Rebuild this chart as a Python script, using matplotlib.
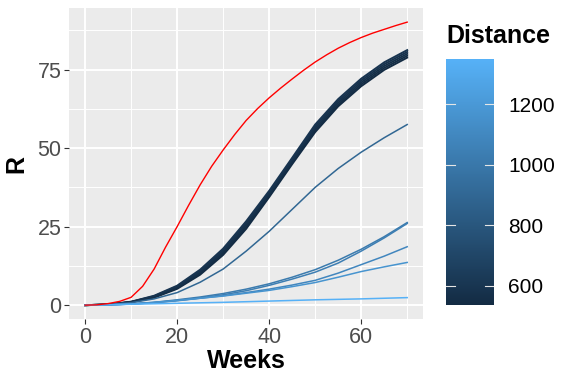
import numpy as np
import matplotlib.pyplot as plt
from matplotlib.colors import LinearSegmentedColormap, Normalize
from matplotlib.cm import ScalarMappable

plt.rcParams['font.family'] = ['Liberation Sans', 'DejaVu Sans']

# weeks sampled every 5, red curve every 2.5
weeks = [0, 5, 10, 15, 20, 25, 30, 35, 40, 45, 50, 55, 60, 65, 70]
weeks_fine = [0, 2.5, 5, 7.5, 10, 12.5, 15, 17.5, 20, 22.5, 25, 27.5, 30, 32.5, 35,
              37.5, 40, 42.5, 45, 47.5, 50, 52.5, 55, 57.5, 60, 62.5, 65, 67.5, 70]

red_R = [0, 0.1, 0.5, 1.2, 2.5, 6.0, 11.5, 18.5, 25.0, 31.8, 38.3, 44.2, 49.4, 54.3, 58.8,
         62.6, 66.0, 69.1, 72.0, 74.8, 77.4, 79.7, 81.8, 83.6, 85.2, 86.6, 87.8, 89.0, 90.1]

# dark band of near-identical runs
band_distance = [537, 552, 567, 582, 597]
band_R = [
    [0, 0.2, 0.9, 2.4, 5.2, 9.7, 16.0, 24.3, 34.4, 44.9, 55.1, 63.3, 69.7, 74.9, 78.8],
    [0, 0.2, 0.95, 2.55, 5.45, 10.1, 16.5, 24.9, 34.9, 45.4, 55.7, 63.8, 70.3, 75.5, 79.4],
    [0, 0.2, 1.0, 2.7, 5.7, 10.5, 17.0, 25.5, 35.4, 45.9, 56.3, 64.4, 70.9, 76.1, 80.0],
    [0, 0.2, 1.05, 2.85, 5.95, 10.9, 17.5, 26.1, 35.9, 46.4, 56.9, 65.0, 71.5, 76.7, 80.6],
    [0, 0.2, 1.1, 3.0, 6.2, 11.3, 18.0, 26.7, 36.4, 46.9, 57.5, 65.6, 72.1, 77.3, 81.2],
]

other_distance = [900, 1020, 1040, 1090, 1170, 1349]
other_R = [
    [0, 0.2, 0.8, 2.0, 4.0, 7.3, 11.5, 17.2, 23.5, 30.5, 37.5, 43.5, 48.7, 53.3, 57.5],
    [0, 0.1, 0.4, 0.9, 1.7, 2.6, 3.7, 5.1, 6.8, 8.9, 11.3, 14.3, 17.8, 21.8, 26.3],
    [0, 0.1, 0.35, 0.8, 1.5, 2.3, 3.3, 4.6, 6.3, 8.3, 10.5, 13.4, 17.2, 21.4, 26.0],
    [0, 0.1, 0.35, 0.8, 1.4, 2.2, 3.0, 4.0, 5.1, 6.4, 7.9, 10.2, 12.9, 15.6, 18.6],
    [0, 0.1, 0.4, 0.9, 1.5, 2.2, 2.9, 3.8, 4.7, 5.9, 7.2, 8.9, 10.7, 12.2, 13.6],
    [0, 0.1, 0.3, 0.45, 0.6, 0.75, 0.9, 1.1, 1.3, 1.5, 1.7, 1.85, 2.0, 2.2, 2.4],
]

cbar_ticks = [600, 800, 1000, 1200]

cmap = LinearSegmentedColormap.from_list('gg', ['#132B43', '#56B1F7'])
norm = Normalize(vmin=537, vmax=1349)

fig = plt.figure(figsize=(5.76, 3.84), dpi=100)
ax = fig.add_axes([69 / 576, 1 - 319.3 / 384, 354.3 / 576, 311.3 / 384])
ax.set_facecolor('#EBEBEB')
for s in ax.spines.values():
    s.set_visible(False)

for d, r in zip(band_distance, band_R):
    ax.plot(weeks, r, color=cmap(norm(d)), lw=1.4, solid_joinstyle='round')
for d, r in zip(other_distance, other_R):
    ax.plot(weeks, r, color=cmap(norm(d)), lw=1.1, solid_joinstyle='round')
ax.plot(weeks_fine, red_R, color='red', lw=1.0, solid_joinstyle='round')

ax.set_xlim(-3.5, 73.5)
ax.set_ylim(-4.5, 94.6)
ax.set_xticks([0, 20, 40, 60])
ax.set_yticks([0, 25, 50, 75])
ax.set_xticks([10, 30, 50, 70], minor=True)
ax.set_yticks([12.5, 37.5, 62.5, 87.5], minor=True)
ax.grid(which='major', color='white', lw=1.4)
ax.grid(which='minor', color='white', lw=0.7)
ax.set_axisbelow(True)
ax.tick_params(which='major', length=3.5, width=0.8, color='#333333',
               labelsize=15.5, labelcolor='#4D4D4D', pad=2)
ax.tick_params(which='minor', length=0)

fig.text(246.5 / 576, 1 - 361.5 / 384, 'Weeks', ha='center', va='center',
         fontsize=18, fontweight='bold')
fig.text(16 / 576, 1 - 164 / 384, 'R', ha='center', va='center',
         fontsize=18, fontweight='bold', rotation=90)

# colour bar
cax = fig.add_axes([445.7 / 576, 1 - 305 / 384, 48.6 / 576, 245.7 / 384])
sm = ScalarMappable(norm=norm, cmap=cmap)
cb = fig.colorbar(sm, cax=cax, ticks=cbar_ticks)
cb.outline.set_visible(False)
cax.tick_params(length=0, labelsize=15, pad=10)
for t in cbar_ticks:
    cax.axhline(t, xmin=0, xmax=0.2, color='#E6E6E6', lw=0.8)
    cax.axhline(t, xmin=0.8, xmax=1, color='#E6E6E6', lw=0.8)
fig.text(446 / 576, 1 - 36 / 384, 'Distance', ha='left', va='center',
         fontsize=18, fontweight='bold')

fig.savefig('out.png', dpi=100)
